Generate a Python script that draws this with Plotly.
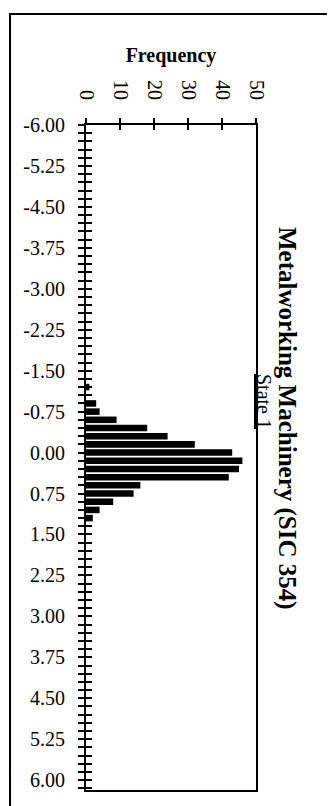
import plotly.graph_objects as go

# ---- data ----
bin_centers = [-1.20, -1.05, -0.90, -0.75, -0.60, -0.45, -0.30, -0.15, 0.00,
               0.15, 0.30, 0.45, 0.60, 0.75, 0.90, 1.05, 1.20]
frequency = [1, 0, 3, 4, 9, 18, 24, 32, 43, 46, 45, 42, 16, 14, 8, 4, 2]

y_tick_values = [-6.00, -5.25, -4.50, -3.75, -3.00, -2.25, -1.50, -0.75, 0.00,
                 0.75, 1.50, 2.25, 3.00, 3.75, 4.50, 5.25, 6.00]
y_tick_labels = ["-6.00", "-5.25", "-4.50", "-3.75", "-3.00", "-2.25", "-1.50", "-0.75", "0.00",
                 "0.75", "1.50", "2.25", "3.00", "3.75", "4.50", "5.25", "6.00"]
x_tick_values = [0, 10, 20, 30, 40, 50]
x_tick_labels = ["0", "10", "20", "30", "40", "50"]

title_text = "<b>Metalworking Machinery (SIC 354)</b>"
subtitle_text = "State 1"
x_title = "<b>Frequency</b>"

FONT = "Liberation Serif"
W, H = 335, 806
L, R, T, B = 78, 87, 117, 24
pw, ph = W - L - R, H - T - B

def px_x(p):
    return (p - L) / pw

def px_y(p):
    return (H - B - p) / ph

x_range = [0, 50]
y_range = [6.18, -6.0]

fig = go.Figure()
fig.add_trace(go.Bar(x=frequency, y=bin_centers, orientation="h",
                     marker=dict(color="black", line=dict(width=0)),
                     hoverinfo="skip", showlegend=False))
# empty trace to anchor overlay axes (used for inward half of crossing ticks)
fig.add_trace(go.Scatter(x=[None], y=[None], xaxis="x2", yaxis="y2",
                         showlegend=False, hoverinfo="skip"))

tick_common = dict(tickcolor="black", tickwidth=1.5)

fig.update_layout(
    width=W, height=H,
    margin=dict(l=L, r=R, t=T, b=B),
    paper_bgcolor="white", plot_bgcolor="white",
    bargap=0.2,
    font=dict(family=FONT, color="black", size=20),
    xaxis=dict(side="top", range=x_range, tickmode="array",
               tickvals=x_tick_values, ticktext=x_tick_labels,
               tickangle=90, ticks="outside", ticklen=5, **tick_common,
               showline=True, linecolor="black", linewidth=2, mirror=True,
               showgrid=False, zeroline=False, ticklabelstandoff=11,
               tickfont=dict(family=FONT, size=20),
               title=dict(text=x_title, font=dict(family=FONT, size=20), standoff=12)),
    yaxis=dict(range=y_range, tickmode="array",
               tickvals=y_tick_values, ticktext=y_tick_labels,
               ticks="outside", ticklen=6, **tick_common,
               minor=dict(dtick=0.15, tick0=0, ticks="outside", ticklen=6,
                          tickcolor="black", tickwidth=1.5, showgrid=False),
               showline=True, linecolor="black", linewidth=2, mirror=True,
               showgrid=False, zeroline=False, ticklabelstandoff=9,
               tickfont=dict(family=FONT, size=20)),
    xaxis2=dict(overlaying="x", side="top", range=x_range, tickmode="array",
                tickvals=x_tick_values, showticklabels=False,
                ticks="inside", ticklen=5, **tick_common,
                showline=False, showgrid=False, zeroline=False),
    yaxis2=dict(overlaying="y", side="left", range=y_range, tickmode="array",
                tickvals=y_tick_values, showticklabels=False,
                ticks="inside", ticklen=6, **tick_common,
                minor=dict(dtick=0.15, tick0=0, ticks="inside", ticklen=6,
                           tickcolor="black", tickwidth=1.5, showgrid=False),
                showline=False, showgrid=False, zeroline=False),
    annotations=[
        dict(text=title_text, textangle=90, xref="paper", yref="paper",
             x=px_x(279), y=px_y(410), showarrow=False,
             xanchor="center", yanchor="middle",
             font=dict(family=FONT, size=25, color="black")),
        dict(text=subtitle_text, textangle=90, xref="paper", yref="paper",
             x=px_x(256), y=px_y(393), showarrow=False,
             xanchor="center", yanchor="middle",
             font=dict(family=FONT, size=20, color="black", lineposition="under")),
    ],
    shapes=[
        dict(type="rect", xref="paper", yref="paper",
             x0=px_x(2), x1=px_x(329), y0=px_y(812), y1=px_y(6),
             line=dict(color="black", width=2), fillcolor="rgba(0,0,0,0)"),
    ],
)

fig.write_html("out.html")
